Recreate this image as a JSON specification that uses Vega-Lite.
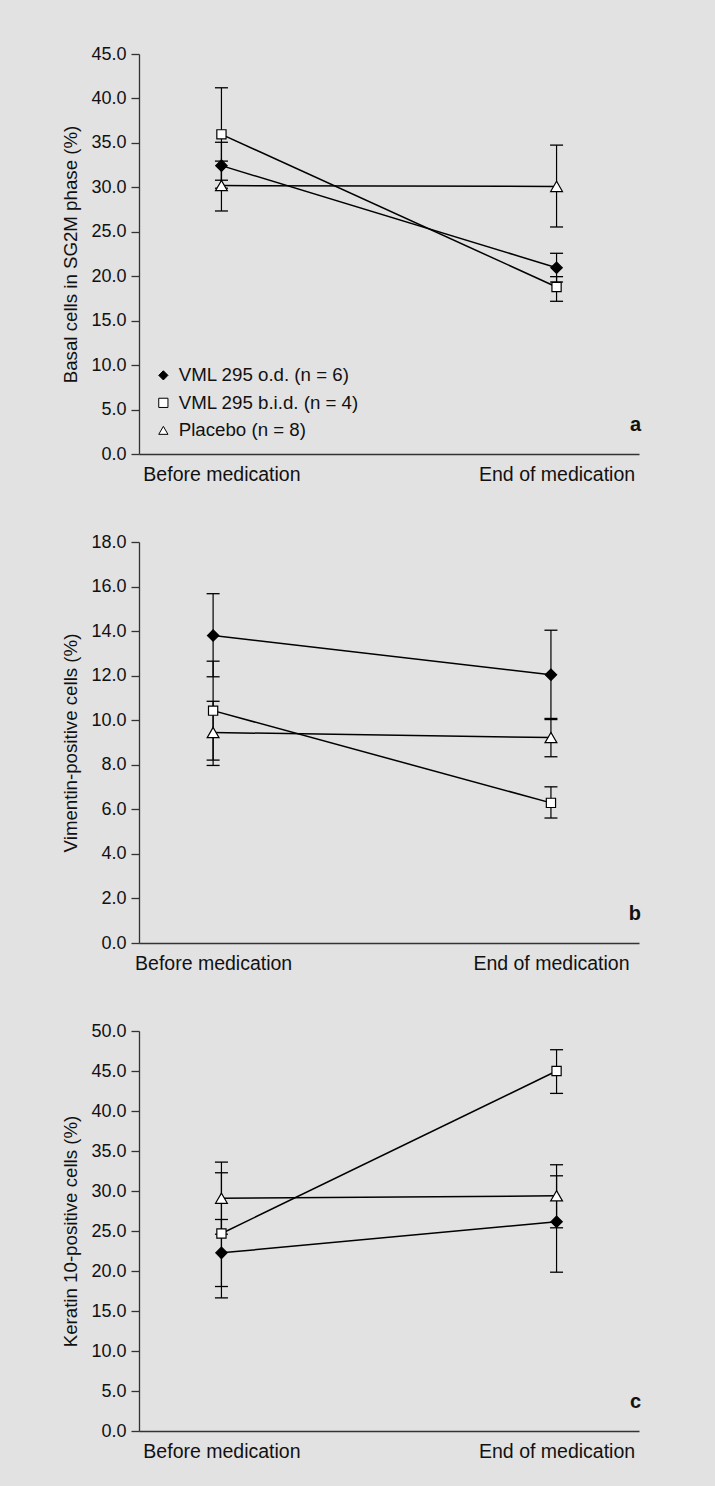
{
  "$schema": "https://vega.github.io/schema/vega-lite/v6.json",
  "background": "#e2e2e2",
  "padding": {"left": 61, "top": 45, "right": 77, "bottom": 29},
  "spacing": 49,
  "config": {
    "view": {"stroke": null},
    "font": "Liberation Sans, Arial, Helvetica, sans-serif",
    "axis": {
      "domainColor": "#333333", "domainWidth": 1.3, "tickColor": "#333333", "tickWidth": 1.3,
      "labelFont": "Liberation Sans, Arial, sans-serif", "labelFontSize": 18, "labelColor": "#111111",
      "titleFont": "Liberation Sans, Arial, sans-serif", "titleFontSize": 18.7, "titleFontWeight": "normal", "titleColor": "#111111",
      "grid": false
    },
    "axisY": {"tickSize": 8, "labelPadding": 5, "titlePadding": 10},
    "axisX": {"ticks": false, "labelPadding": 11, "labelAngle": 0, "labelFontSize": 19.5},
    "legend": {
      "labelFont": "Liberation Sans, Arial, sans-serif", "labelFontSize": 18.7, "labelColor": "#111111", "labelLimit": 400,
      "symbolStrokeWidth": 1, "rowPadding": 7.5, "labelOffset": 6, "padding": 0
    }
  },
  "datasets": {
    "pts": [
      {"panel": "a", "time": "Before medication", "group": "VML 295 o.d. (n = 6)", "mean": 32.44, "lo": 29.9, "hi": 35.07},
      {"panel": "a", "time": "Before medication", "group": "VML 295 b.i.d. (n = 4)", "mean": 35.96, "lo": 30.8, "hi": 41.2},
      {"panel": "a", "time": "Before medication", "group": "Placebo (n = 8)", "mean": 30.2, "lo": 27.34, "hi": 32.95},
      {"panel": "a", "time": "End of medication", "group": "VML 295 o.d. (n = 6)", "mean": 20.96, "lo": 19.35, "hi": 22.58},
      {"panel": "a", "time": "End of medication", "group": "VML 295 b.i.d. (n = 4)", "mean": 18.79, "lo": 17.18, "hi": 19.95},
      {"panel": "a", "time": "End of medication", "group": "Placebo (n = 8)", "mean": 30.1, "lo": 25.54, "hi": 34.75},
      {"panel": "b", "time": "Before medication", "group": "VML 295 o.d. (n = 6)", "mean": 13.8, "lo": 11.95, "hi": 15.68},
      {"panel": "b", "time": "Before medication", "group": "VML 295 b.i.d. (n = 4)", "mean": 10.43, "lo": 8.21, "hi": 12.65},
      {"panel": "b", "time": "Before medication", "group": "Placebo (n = 8)", "mean": 9.45, "lo": 7.97, "hi": 10.85},
      {"panel": "b", "time": "End of medication", "group": "VML 295 o.d. (n = 6)", "mean": 12.04, "lo": 10.03, "hi": 14.04},
      {"panel": "b", "time": "End of medication", "group": "VML 295 b.i.d. (n = 4)", "mean": 6.29, "lo": 5.61, "hi": 7.01},
      {"panel": "b", "time": "End of medication", "group": "Placebo (n = 8)", "mean": 9.22, "lo": 8.36, "hi": 10.08},
      {"panel": "c", "time": "Before medication", "group": "VML 295 o.d. (n = 6)", "mean": 22.27, "lo": 18.06, "hi": 26.44},
      {"panel": "c", "time": "Before medication", "group": "VML 295 b.i.d. (n = 4)", "mean": 24.69, "lo": 16.64, "hi": 32.28},
      {"panel": "c", "time": "Before medication", "group": "Placebo (n = 8)", "mean": 29.1, "lo": 24.6, "hi": 33.61},
      {"panel": "c", "time": "End of medication", "group": "VML 295 o.d. (n = 6)", "mean": 26.15, "lo": 19.85, "hi": 31.9},
      {"panel": "c", "time": "End of medication", "group": "VML 295 b.i.d. (n = 4)", "mean": 45.0, "lo": 42.2, "hi": 47.66},
      {"panel": "c", "time": "End of medication", "group": "Placebo (n = 8)", "mean": 29.4, "lo": 25.4, "hi": 33.28}
    ]
  },
  "resolve": {"scale": {"y": "independent", "x": "independent"}, "legend": {"shape": "independent", "fill": "independent", "stroke": "independent"}},
  "vconcat": [
    {
      "width": 500, "height": 400,
      "layer": [
        {
          "data": {"name": "pts"}, "transform": [{"filter": "datum.panel === 'a'"}],
          "layer": [
            {"mark": {"type": "rule", "color": "black", "strokeWidth": 1.2},
             "encoding": {"x": {"field": "time", "type": "nominal"}, "y": {"field": "lo", "type": "quantitative"}, "y2": {"field": "hi"}}},
            {"mark": {"type": "tick", "orient": "horizontal", "color": "black", "size": 13, "thickness": 1.3, "opacity": 1},
             "encoding": {"x": {"field": "time", "type": "nominal"}, "y": {"field": "lo", "type": "quantitative"}}},
            {"mark": {"type": "tick", "orient": "horizontal", "color": "black", "size": 13, "thickness": 1.3, "opacity": 1},
             "encoding": {"x": {"field": "time", "type": "nominal"}, "y": {"field": "hi", "type": "quantitative"}}},
            {"mark": {"type": "line", "color": "black", "strokeWidth": 1.5},
             "encoding": {"x": {"field": "time", "type": "nominal"}, "y": {"field": "mean", "type": "quantitative"}, "detail": {"field": "group"}}},
            {"mark": {"type": "point", "filled": true, "strokeWidth": 1.2, "opacity": 1},
             "encoding": {
               "x": {"field": "time", "type": "nominal"},
               "y": {"field": "mean", "type": "quantitative"},
               "size": {"field": "group", "type": "nominal", "scale": {"type": "ordinal", "domain": ["VML 295 o.d. (n = 6)", "VML 295 b.i.d. (n = 4)", "Placebo (n = 8)"], "range": [130, 85, 140]}, "legend": null},
               "shape": {"field": "group", "type": "nominal", "scale": {"domain": ["VML 295 o.d. (n = 6)", "VML 295 b.i.d. (n = 4)", "Placebo (n = 8)"], "range": ["diamond", "square", "triangle-up"]},
                 "legend": {"title": null, "orient": "none", "legendX": 15, "legendY": 312, "symbolSize": 85}},
               "fill": {"field": "group", "type": "nominal", "scale": {"domain": ["VML 295 o.d. (n = 6)", "VML 295 b.i.d. (n = 4)", "Placebo (n = 8)"], "range": ["black", "white", "white"]},
                 "legend": {"title": null, "orient": "none", "legendX": 15, "legendY": 312, "symbolSize": 85}},
               "stroke": {"field": "group", "type": "nominal", "scale": {"domain": ["VML 295 o.d. (n = 6)", "VML 295 b.i.d. (n = 4)", "Placebo (n = 8)"], "range": ["black", "black", "black"]},
                 "legend": {"title": null, "orient": "none", "legendX": 15, "legendY": 312, "symbolSize": 85}}
             }}
          ]
        },
        {
          "data": {"values": [{"letter": "a", "pos": 2.6}]},
          "mark": {"type": "text", "align": "right", "baseline": "alphabetic", "fontSize": 20, "fontWeight": "bold", "color": "#111111", "dx": 2},
          "encoding": {"x": {"value": "width"}, "y": {"field": "pos", "type": "quantitative"}, "text": {"field": "letter"}}
        }
      ],
      "encoding": {
        "x": {"field": "time", "type": "nominal", "scale": {"type": "point", "padding": 0.246, "domain": ["Before medication", "End of medication"]}, "axis": {"title": null}},
        "y": {"type": "quantitative", "scale": {"domain": [0, 45], "nice": false}, "axis": {"title": "Basal cells in SG2M phase (%)", "values": [0, 5, 10, 15, 20, 25, 30, 35, 40, 45], "format": ".1f"}}
      }
    },
    {
      "width": 500, "height": 401,
      "layer": [
        {
          "data": {"name": "pts"}, "transform": [{"filter": "datum.panel === 'b'"}],
          "layer": [
            {"mark": {"type": "rule", "color": "black", "strokeWidth": 1.2},
             "encoding": {"x": {"field": "time", "type": "nominal"}, "y": {"field": "lo", "type": "quantitative"}, "y2": {"field": "hi"}}},
            {"mark": {"type": "tick", "orient": "horizontal", "color": "black", "size": 13, "thickness": 1.3, "opacity": 1},
             "encoding": {"x": {"field": "time", "type": "nominal"}, "y": {"field": "lo", "type": "quantitative"}}},
            {"mark": {"type": "tick", "orient": "horizontal", "color": "black", "size": 13, "thickness": 1.3, "opacity": 1},
             "encoding": {"x": {"field": "time", "type": "nominal"}, "y": {"field": "hi", "type": "quantitative"}}},
            {"mark": {"type": "line", "color": "black", "strokeWidth": 1.5},
             "encoding": {"x": {"field": "time", "type": "nominal"}, "y": {"field": "mean", "type": "quantitative"}, "detail": {"field": "group"}}},
            {"mark": {"type": "point", "filled": true, "strokeWidth": 1.2, "opacity": 1},
             "encoding": {
               "x": {"field": "time", "type": "nominal"},
               "y": {"field": "mean", "type": "quantitative"},
               "size": {"field": "group", "type": "nominal", "scale": {"type": "ordinal", "domain": ["VML 295 o.d. (n = 6)", "VML 295 b.i.d. (n = 4)", "Placebo (n = 8)"], "range": [130, 85, 140]}, "legend": null},
               "shape": {"field": "group", "type": "nominal", "scale": {"domain": ["VML 295 o.d. (n = 6)", "VML 295 b.i.d. (n = 4)", "Placebo (n = 8)"], "range": ["diamond", "square", "triangle-up"]}, "legend": null},
               "fill": {"field": "group", "type": "nominal", "scale": {"domain": ["VML 295 o.d. (n = 6)", "VML 295 b.i.d. (n = 4)", "Placebo (n = 8)"], "range": ["black", "white", "white"]}, "legend": null},
               "stroke": {"field": "group", "type": "nominal", "scale": {"domain": ["VML 295 o.d. (n = 6)", "VML 295 b.i.d. (n = 4)", "Placebo (n = 8)"], "range": ["black", "black", "black"]}, "legend": null}
             }}
          ]
        },
        {
          "data": {"values": [{"letter": "b", "pos": 1.05}]},
          "mark": {"type": "text", "align": "right", "baseline": "alphabetic", "fontSize": 20, "fontWeight": "bold", "color": "#111111", "dx": 2},
          "encoding": {"x": {"value": "width"}, "y": {"field": "pos", "type": "quantitative"}, "text": {"field": "letter"}}
        }
      ],
      "encoding": {
        "x": {"field": "time", "type": "nominal", "scale": {"type": "point", "padding": 0.24, "align": 0.457, "domain": ["Before medication", "End of medication"]}, "axis": {"title": null}},
        "y": {"type": "quantitative", "scale": {"domain": [0, 18], "nice": false}, "axis": {"title": "Vimentin-positive cells (%)", "values": [0, 2, 4, 6, 8, 10, 12, 14, 16, 18], "format": ".1f"}}
      }
    },
    {
      "width": 500, "height": 400,
      "layer": [
        {
          "data": {"name": "pts"}, "transform": [{"filter": "datum.panel === 'c'"}],
          "layer": [
            {"mark": {"type": "rule", "color": "black", "strokeWidth": 1.2},
             "encoding": {"x": {"field": "time", "type": "nominal"}, "y": {"field": "lo", "type": "quantitative"}, "y2": {"field": "hi"}}},
            {"mark": {"type": "tick", "orient": "horizontal", "color": "black", "size": 13, "thickness": 1.3, "opacity": 1},
             "encoding": {"x": {"field": "time", "type": "nominal"}, "y": {"field": "lo", "type": "quantitative"}}},
            {"mark": {"type": "tick", "orient": "horizontal", "color": "black", "size": 13, "thickness": 1.3, "opacity": 1},
             "encoding": {"x": {"field": "time", "type": "nominal"}, "y": {"field": "hi", "type": "quantitative"}}},
            {"mark": {"type": "line", "color": "black", "strokeWidth": 1.5},
             "encoding": {"x": {"field": "time", "type": "nominal"}, "y": {"field": "mean", "type": "quantitative"}, "detail": {"field": "group"}}},
            {"mark": {"type": "point", "filled": true, "strokeWidth": 1.2, "opacity": 1},
             "encoding": {
               "x": {"field": "time", "type": "nominal"},
               "y": {"field": "mean", "type": "quantitative"},
               "size": {"field": "group", "type": "nominal", "scale": {"type": "ordinal", "domain": ["VML 295 o.d. (n = 6)", "VML 295 b.i.d. (n = 4)", "Placebo (n = 8)"], "range": [130, 85, 140]}, "legend": null},
               "shape": {"field": "group", "type": "nominal", "scale": {"domain": ["VML 295 o.d. (n = 6)", "VML 295 b.i.d. (n = 4)", "Placebo (n = 8)"], "range": ["diamond", "square", "triangle-up"]}, "legend": null},
               "fill": {"field": "group", "type": "nominal", "scale": {"domain": ["VML 295 o.d. (n = 6)", "VML 295 b.i.d. (n = 4)", "Placebo (n = 8)"], "range": ["black", "white", "white"]}, "legend": null},
               "stroke": {"field": "group", "type": "nominal", "scale": {"domain": ["VML 295 o.d. (n = 6)", "VML 295 b.i.d. (n = 4)", "Placebo (n = 8)"], "range": ["black", "black", "black"]}, "legend": null}
             }}
          ]
        },
        {
          "data": {"values": [{"letter": "c", "pos": 2.9}]},
          "mark": {"type": "text", "align": "right", "baseline": "alphabetic", "fontSize": 20, "fontWeight": "bold", "color": "#111111", "dx": 2},
          "encoding": {"x": {"value": "width"}, "y": {"field": "pos", "type": "quantitative"}, "text": {"field": "letter"}}
        }
      ],
      "encoding": {
        "x": {"field": "time", "type": "nominal", "scale": {"type": "point", "padding": 0.246, "domain": ["Before medication", "End of medication"]}, "axis": {"title": null}},
        "y": {"type": "quantitative", "scale": {"domain": [0, 50], "nice": false}, "axis": {"title": "Keratin 10-positive cells (%)", "values": [0, 5, 10, 15, 20, 25, 30, 35, 40, 45, 50], "format": ".1f"}}
      }
    }
  ]
}
